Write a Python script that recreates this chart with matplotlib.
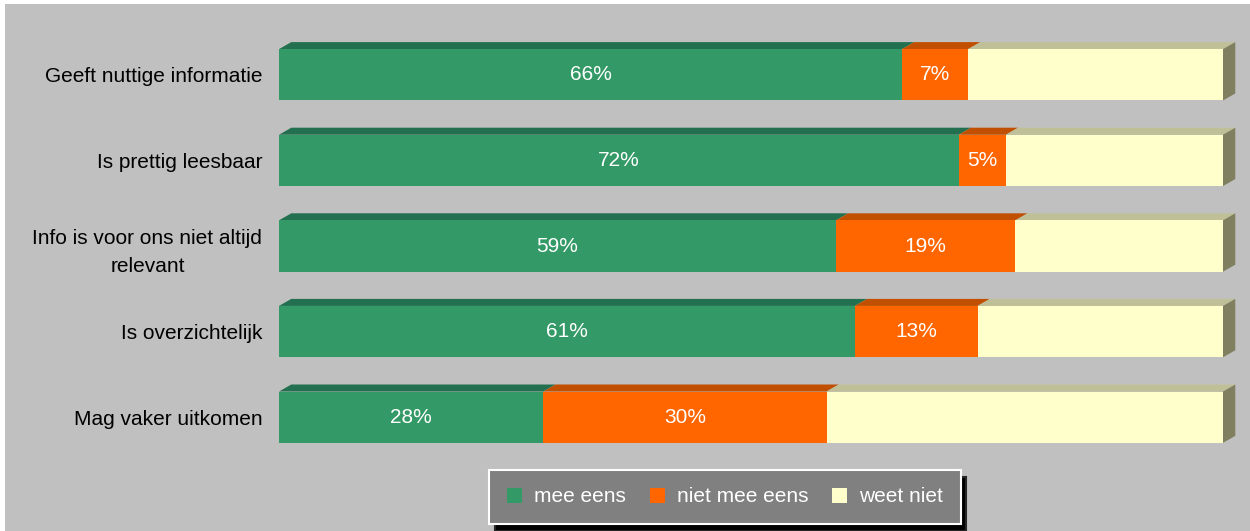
import numpy as np
import matplotlib.pyplot as plt
from matplotlib.patches import Polygon, Rectangle

plt.rcParams['font.family'] = ['Liberation Sans', 'DejaVu Sans']

categories = ["Geeft nuttige informatie", "Is prettig leesbaar",
              "Info is voor ons niet altijd\nrelevant", "Is overzichtelijk",
              "Mag vaker uitkomen"]
mee_eens = [66, 72, 59, 61, 28]
niet_mee_eens = [7, 5, 19, 13, 30]
weet_niet = [27, 23, 22, 26, 42]
series_names = ["mee eens", "niet mee eens", "weet niet"]

front = ["#339966", "#FF6600", "#FFFFCC"]
top = ["#237050", "#C05000", "#C0C098"]
side = "#808060"

fig = plt.figure(figsize=(12.5, 5.31), dpi=100, facecolor="white")
fig.add_artist(Rectangle((5 / 1250, 0), 1, 1 - 4 / 531, transform=fig.transFigure,
                         facecolor="#C0C0C0", edgecolor="none", zorder=-5))
ax = fig.add_axes([279 / 1250, 1 - 460 / 531, 944 / 1250, 428 / 531])
ax.set_facecolor("none")

y = np.arange(len(categories))
h = 0.6
dx = 1.3
dy = 0.082

left = np.zeros(len(categories))
for vals, fc, tc in zip([mee_eens, niet_mee_eens, weet_niet], front, top):
    vals = np.array(vals)
    ax.barh(y, vals, left=left, height=h, color=fc, edgecolor="none", zorder=2)
    for i in range(len(y)):
        t = y[i] - h / 2
        x0, x1 = left[i], left[i] + vals[i]
        ax.add_patch(Polygon([(x0, t), (x1, t), (x1 + dx, t - dy), (x0 + dx, t - dy)],
                             closed=True, facecolor=tc, edgecolor="none",
                             clip_on=False, zorder=1))
    left = left + vals

for i in range(len(y)):
    t = y[i] - h / 2
    b = y[i] + h / 2
    x1 = left[i]
    ax.add_patch(Polygon([(x1, t), (x1 + dx, t - dy), (x1 + dx, b - dy), (x1, b)],
                         closed=True, facecolor=side, edgecolor="none",
                         clip_on=False, zorder=1))
    ax.text(mee_eens[i] / 2, y[i], f"{mee_eens[i]}%", color="white", fontsize=15,
            ha="center", va="center", zorder=3)
    ax.text(mee_eens[i] + niet_mee_eens[i] / 2, y[i], f"{niet_mee_eens[i]}%",
            color="white", fontsize=15, ha="center", va="center", zorder=3)

ax.set_xlim(0, 100)
ax.set_ylim(4.5, -0.5)
ax.set_yticks(y)
ax.set_yticklabels(categories, fontsize=15, multialignment="center", linespacing=1.6)
ax.tick_params(axis="y", length=0, pad=12)
ax.set_xticks([])
for s in ax.spines.values():
    s.set_visible(False)

handles = [Rectangle((0, 0), 1, 1, facecolor=c, edgecolor="none") for c in front]
leg = fig.legend(handles, series_names, loc="center", bbox_to_anchor=(725 / 1250, 1 - 497 / 531),
                 ncol=3, frameon=True, fancybox=False,
                 shadow={"facecolor": "black", "alpha": 1, "ox": 4, "oy": -5},
                 fontsize=15, labelcolor="white", handlelength=0.72, handleheight=0.72,
                 columnspacing=1.15, handletextpad=0.58, borderpad=0.85, borderaxespad=0)
leg.get_frame().set_facecolor("#808080")
leg.get_frame().set_edgecolor("white")
leg.get_frame().set_linewidth(1.5)
leg.get_frame().set_alpha(1)

fig.savefig("out.png", dpi=100, facecolor=fig.get_facecolor())
